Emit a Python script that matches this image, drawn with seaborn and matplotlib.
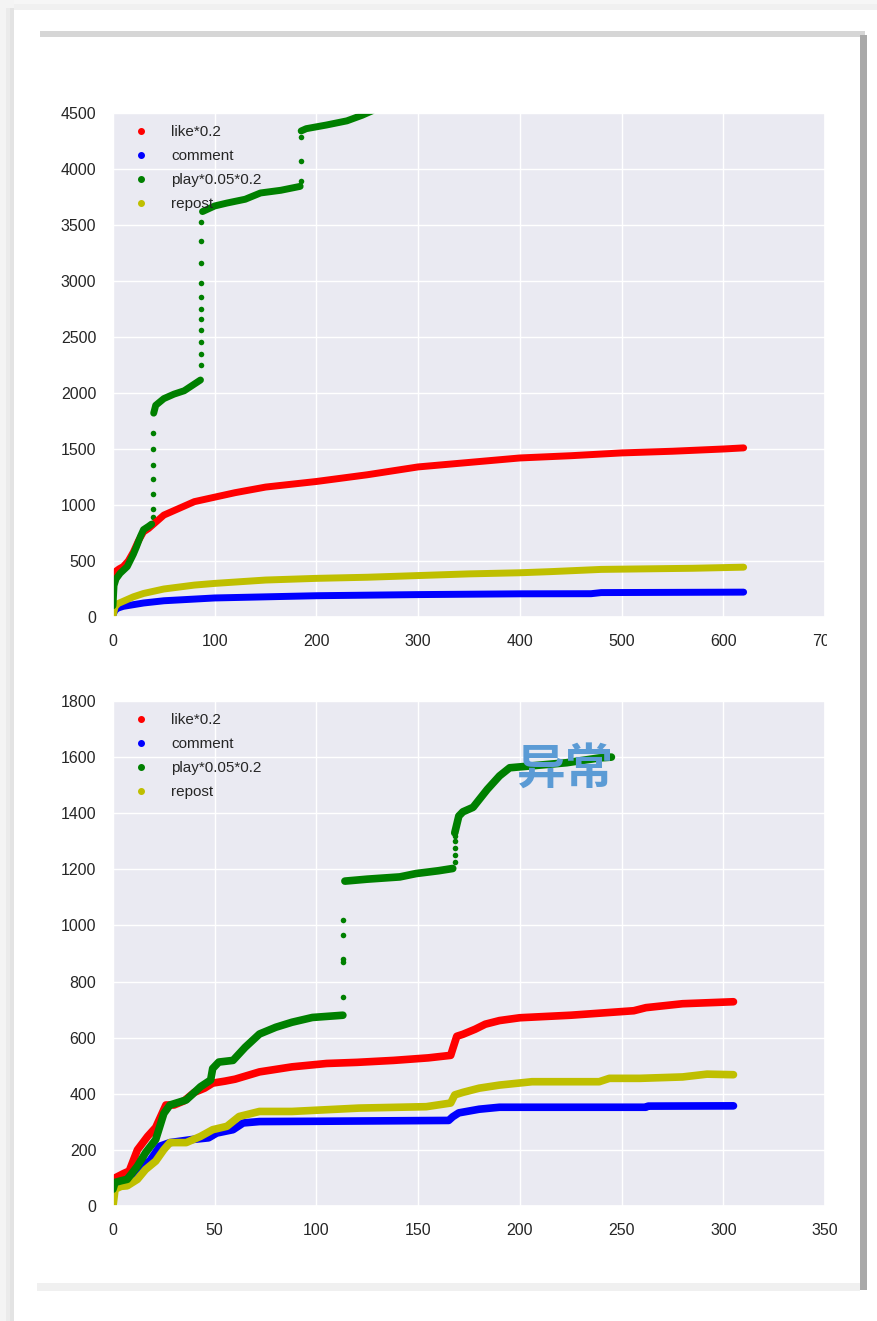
import matplotlib
matplotlib.use("Agg")
import matplotlib.pyplot as plt
from matplotlib.lines import Line2D
from matplotlib.patches import Rectangle
import seaborn as sns

# ---- upper panel (x 0..700, y 0..4500) ----
top_like_x = [0, 1, 3, 6, 10, 15, 20, 25, 30, 35, 40, 50, 60, 70, 80, 90, 100, 120, 150, 200, 250, 300, 350, 400, 450, 500, 550, 600, 620]
top_like_y = [280, 380, 410, 430, 450, 500, 580, 680, 760, 790, 830, 910, 950, 990, 1030, 1050, 1070, 1110, 1160, 1210, 1270, 1340, 1380, 1420, 1440, 1465, 1480, 1500, 1510]

top_comment_x = [0, 2, 5, 10, 20, 30, 50, 80, 100, 150, 200, 300, 400, 470, 480, 620]
top_comment_y = [20, 60, 80, 95, 110, 125, 145, 160, 170, 180, 190, 200, 207, 208, 218, 222]

top_repost_x = [0, 2, 5, 10, 20, 30, 50, 80, 100, 150, 200, 250, 300, 350, 400, 430, 480, 570, 620]
top_repost_y = [10, 90, 120, 140, 180, 210, 250, 285, 300, 330, 345, 355, 370, 385, 395, 405, 425, 435, 445]

# play series: dense runs and the sparse points of the jumps between them
top_play_runs = [
    ([0, 1, 3, 7, 14, 20, 23, 27, 30, 35, 38],
     [100, 280, 340, 390, 450, 560, 625, 720, 780, 810, 830]),
    ([40, 42, 50, 60, 70, 80, 86],
     [1820, 1890, 1950, 1990, 2020, 2080, 2116]),
    ([88, 100, 112, 130, 145, 165, 184],
     [3620, 3670, 3696, 3730, 3786, 3810, 3845]),
    ([185, 190, 210, 230, 245, 255],
     [4340, 4360, 4393, 4430, 4480, 4520]),
]
top_play_jump_x = [39] * 7 + [87] * 11 + [185] * 3
top_play_jump_y = [893, 964, 1098, 1232, 1357, 1500, 1643,
                   2250, 2350, 2455, 2562, 2661, 2750, 2857, 2982, 3161, 3357, 3527,
                   3893, 4071, 4286]

# ---- lower panel (x 0..350, y 0..1800) ----
bot_like_x = [0, 1, 5, 8, 12, 17, 21, 26, 30, 35, 40, 45, 49, 55, 60, 72, 88, 105, 120, 138, 155, 166, 167, 169, 172, 178, 183, 190, 200, 225, 256, 262, 280, 305]
bot_like_y = [60, 100, 115, 125, 200, 248, 280, 360, 360, 375, 405, 420, 438, 445, 452, 478, 496, 508, 512, 519, 528, 537, 560, 605, 612, 630, 648, 661, 671, 680, 696, 707, 721, 728]

bot_comment_x = [0, 1, 4, 7, 13, 18, 23, 28, 39, 47, 51, 59, 64, 72, 100, 165, 167, 170, 180, 190, 262, 263, 305]
bot_comment_y = [50, 80, 85, 95, 142, 160, 213, 226, 237, 243, 260, 272, 296, 301, 302, 305, 318, 332, 345, 352, 352, 356, 357]

bot_repost_x = [0, 1, 4, 7, 12, 16, 21, 25, 28, 36, 43, 49, 56, 62, 72, 88, 121, 154, 166, 168, 172, 180, 190, 206, 239, 244, 259, 280, 292, 305]
bot_repost_y = [0, 60, 70, 72, 95, 130, 160, 201, 226, 226, 248, 272, 284, 319, 337, 337, 349, 354, 367, 396, 405, 420, 431, 443, 443, 455, 455, 460, 470, 468]

bot_play_runs = [
    ([0, 1, 4, 7, 12, 16, 21, 25, 28, 36, 43, 48, 49, 52, 59, 65, 72, 80, 88, 98, 113],
     [60, 84, 90, 95, 142, 190, 237, 330, 360, 378, 425, 449, 490, 513, 519, 566, 613, 637, 655, 672, 680]),
    ([114, 125, 141, 149, 160, 167],
     [1158, 1165, 1173, 1185, 1195, 1203]),
    ([168, 170, 172, 177, 184, 190, 195, 206, 223, 239, 245],
     [1330, 1390, 1405, 1421, 1485, 1533, 1562, 1569, 1580, 1597, 1600]),
]
bot_play_jump_x = [113] * 5 + [168] * 5
bot_play_jump_y = [745, 870, 880, 965, 1020, 1225, 1250, 1275, 1300, 1320]

labels = ["like*0.2", "comment", "play*0.05*0.2", "repost"]
colors = [(1.0, 0.0, 0.0), (0.0, 0.0, 1.0), (0.0, 0.5, 0.0), (0.75, 0.75, 0.0)]

sns.set_theme(style="darkgrid", color_codes=False)
plt.rcParams['font.family'] = ['Liberation Sans', 'DejaVu Sans']

W, H = 878, 1321
fig = plt.figure(figsize=(W / 100, H / 100), dpi=100, facecolor='white')


def px_rect(x0, y0, x1, y1, color, z=0):
    fig.add_artist(Rectangle((x0 / W, 1 - y1 / H), (x1 - x0) / W, (y1 - y0) / H,
                             transform=fig.transFigure, color=color, lw=0, zorder=z))


# screenshot frame / soft shadow
px_rect(0, 0, W, 10, '#f6f6f6')
px_rect(0, 4, W, 10, '#f0f0f0')
px_rect(0, 0, 14, H, '#f4f4f4')
px_rect(6, 8, 14, H, '#ebebeb')
px_rect(10, 8, 14, H, '#e3e3e3')
px_rect(14, 10, W, H, 'white')
px_rect(40, 31, 865, 37, '#d6d6d6')
px_rect(860, 35, 867, 1290, '#a9a9a9')
px_rect(37, 1283, 860, 1291, '#f0f0f0')


def draw_panel(ax, series, play_runs, jump_x, jump_y, lw):
    for (xs, ys), c in zip(series, [colors[0], colors[1], colors[3]]):
        sns.lineplot(x=xs, y=ys, ax=ax, color=c, lw=lw, sort=False, estimator=None,
                     solid_capstyle='round', solid_joinstyle='round')
    for xs, ys in play_runs:
        sns.lineplot(x=xs, y=ys, ax=ax, color=colors[2], lw=lw, sort=False, estimator=None,
                     solid_capstyle='round', solid_joinstyle='round')
    sns.scatterplot(x=jump_x, y=jump_y, ax=ax, color=colors[2], s=16, linewidth=0)
    handles = [Line2D([], [], marker='o', ls='', color=c, markersize=4) for c in colors]
    ax.legend(handles, labels, loc='upper left', frameon=False, fontsize=11,
              numpoints=1, handletextpad=1.0, labelspacing=0.65,
              bbox_to_anchor=(0.0, 1.0), borderaxespad=0.4)
    ax.tick_params(labelsize=11.5, pad=6, colors='#262626')
    ax.set_xlabel('')
    ax.set_ylabel('')


ax1 = fig.add_axes([113 / W, 1 - 617 / H, 712 / W, 504 / H])
draw_panel(ax1, [(top_like_x, top_like_y), (top_comment_x, top_comment_y), (top_repost_x, top_repost_y)],
           top_play_runs, top_play_jump_x, top_play_jump_y, 5)
ax1.set_xlim(0, 700)
ax1.set_ylim(0, 4500)
ax1.set_xticks(range(0, 701, 100))
ax1.set_yticks(range(0, 4501, 500))

ax2 = fig.add_axes([113 / W, 1 - 1206 / H, 712 / W, 505 / H])
draw_panel(ax2, [(bot_like_x, bot_like_y), (bot_comment_x, bot_comment_y), (bot_repost_x, bot_repost_y)],
           bot_play_runs, bot_play_jump_x, bot_play_jump_y, 5.5)
ax2.set_xlim(0, 350)
ax2.set_ylim(0, 1800)
ax2.set_xticks(range(0, 351, 50))
ax2.set_yticks(range(0, 1801, 200))

# the screenshot cuts off the last x label of the upper chart
px_rect(827, 620, 859, 650, 'white', z=10)

ax2.text(0.635, 0.865, '异常', transform=ax2.transAxes, ha='center', va='center',
         fontsize=35, fontweight='bold', color='#5b9bd5',
         family=['Noto Sans CJK SC', 'DejaVu Sans'], zorder=10)

fig.savefig('out.png', dpi=100, facecolor=fig.get_facecolor())
